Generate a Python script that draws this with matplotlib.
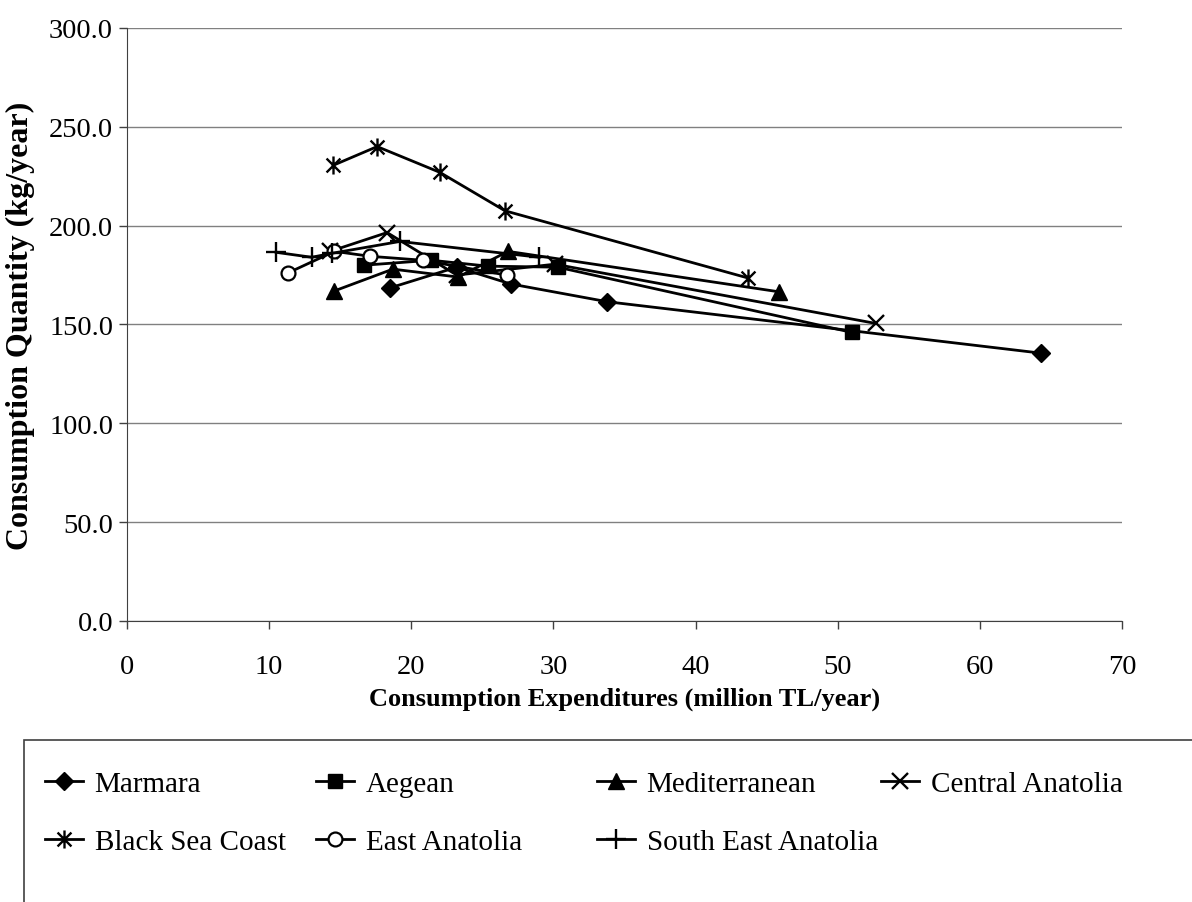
import matplotlib.pyplot as plt
from matplotlib.path import Path
from matplotlib.patches import Rectangle
from matplotlib.ticker import FormatStrFormatter

plt.rcParams['font.family'] = ['Liberation Serif', 'DejaVu Serif']

# Data (x = expenditure, y = quantity)
marmara_x = [18.5, 23.2, 27.0, 33.8, 64.3]
marmara_y = [168.5, 179.0, 170.5, 161.5, 135.5]
aegean_x = [16.7, 21.4, 25.4, 30.3, 51.0]
aegean_y = [180.0, 182.5, 179.5, 179.0, 146.0]
medit_x = [14.6, 18.7, 23.3, 26.8, 45.9]
medit_y = [167.0, 178.0, 174.0, 187.0, 166.5]
central_x = [14.3, 18.3, 23.2, 30.1, 52.7]
central_y = [187.0, 196.5, 175.0, 180.5, 150.5]
blacksea_x = [14.5, 17.6, 22.0, 26.6, 43.7]
blacksea_y = [230.5, 240.0, 227.0, 207.5, 173.5]
east_x = [11.3, 14.6, 17.1, 20.8, 26.7]
east_y = [176.0, 187.0, 184.5, 182.5, 175.0]
southeast_x = [10.5, 13.0, 14.4, 19.2, 29.0]
southeast_y = [186.5, 184.0, 186.0, 192.0, 184.0]

# asterisk marker like Excel's
star = Path([(-1, -1), (1, 1), (-1, 1), (1, -1), (0, -1.3), (0, 1.3)],
            [Path.MOVETO, Path.LINETO, Path.MOVETO, Path.LINETO, Path.MOVETO, Path.LINETO])

fig = plt.figure(figsize=(11.92, 9.03), dpi=100)
ax = fig.add_axes([0.1065, 0.3112, 0.8348, 0.6567])

lw = 2.0
h_marmara, = ax.plot(marmara_x, marmara_y, color='black', lw=lw, marker='D', ms=9, label='Marmara')
h_aegean, = ax.plot(aegean_x, aegean_y, color='black', lw=lw, marker='s', ms=10, label='Aegean')
h_medit, = ax.plot(medit_x, medit_y, color='black', lw=lw, marker='^', ms=11, label='Mediterranean')
h_central, = ax.plot(central_x, central_y, color='black', lw=lw, marker='x', ms=11, mew=1.7,
                     label='Central Anatolia')
h_black, = ax.plot(blacksea_x, blacksea_y, color='black', lw=lw, marker=star, ms=13, mew=1.7,
                   mfc='none', label='Black Sea Coast')
h_east, = ax.plot(east_x, east_y, color='black', lw=lw, marker='o', ms=10, mew=1.6,
                  mfc='white', label='East Anatolia')
h_se, = ax.plot(southeast_x, southeast_y, color='black', lw=lw, marker='+', ms=14, mew=1.7,
                label='South East Anatolia')

ax.set_xlim(0, 70)
ax.set_ylim(0, 300)
ax.set_xticks(range(0, 71, 10))
ax.set_yticks(range(0, 301, 50))
ax.yaxis.set_major_formatter(FormatStrFormatter('%.1f'))
ax.grid(axis='y', color='#808080', lw=1)
ax.set_axisbelow(True)
for s in ['top', 'right']:
    ax.spines[s].set_visible(False)
for s in ['left', 'bottom']:
    ax.spines[s].set_color('#404040')
ax.tick_params(direction='out', length=6, width=1, color='#404040', labelsize=20.5, pad=4)
ax.tick_params(axis='x', pad=18)

ax.set_xlabel('Consumption Expenditures (million TL/year)', fontsize=19, fontweight='bold', labelpad=5)
ax.set_ylabel('Consumption Quantity (kg/year)', fontsize=23, fontweight='bold', labelpad=10)

# legend box running off the page like the original
fig.patches.append(Rectangle((24 / 1192, -0.05), 1.1, 0.05 + 1 - 741 / 903, transform=fig.transFigure,
                             fill=False, edgecolor='#404040', lw=1.2))

columns = [[h_marmara, h_black], [h_aegean, h_east], [h_medit, h_se], [h_central]]
col_left = [45, 316, 597, 881]
for handles, x0 in zip(columns, col_left):
    fig.legend(handles=handles, loc='upper left', bbox_to_anchor=(x0 / 1192, 1 - 772 / 903),
               frameon=False, fontsize=21, handlelength=1.3, handletextpad=0.4,
               labelspacing=1.07, borderpad=0, borderaxespad=0)

fig.savefig('out.png', dpi=100)
